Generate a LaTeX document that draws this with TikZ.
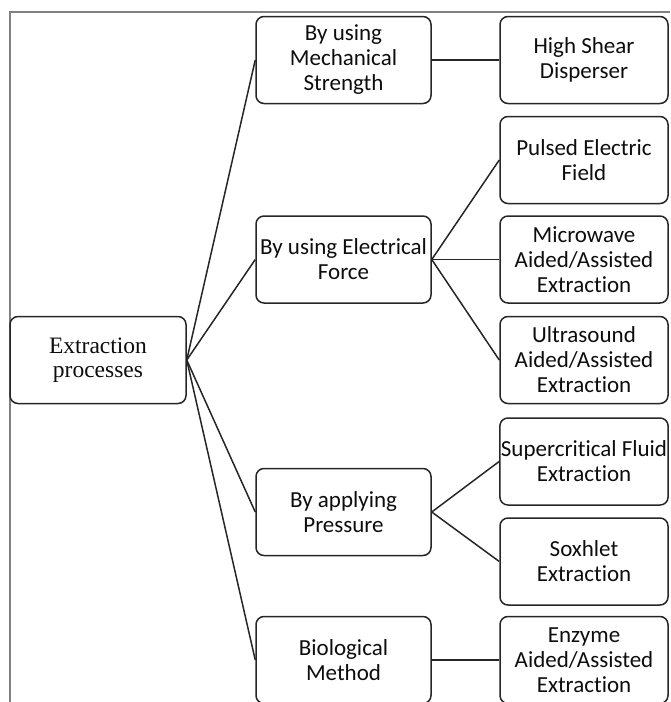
\documentclass[tikz,border=0pt]{standalone}
\usepackage{fontspec}
\setmainfont[Ligatures=NoCommon]{Carlito}
\newfontfamily\rootfont{Liberation Serif}
\begin{document}
\begin{tikzpicture}[x=1pt,y=-1pt,line width=1.5pt,draw=black!85]
	\def \colroot{98}
	\def \colmid{343.5}
	\def \colleaf{584}
	\tikzstyle{box}=[draw,rounded corners=8pt,align=center,inner sep=1pt,minimum height=87pt,text=black!95,font=\fontsize{23}{25}\selectfont]
	\tikzstyle{r-box}=[box,minimum width=176pt,font=\rootfont\fontsize{23.5}{24.5}\selectfont]
	\tikzstyle{m-box}=[box,minimum width=175pt]
	\tikzstyle{l-box}=[box,minimum width=168pt]
	\tikzstyle{frame}=[draw=black!50,line width=2pt]
	\useasboundingbox (0,0) rectangle (670,702);
	% frame
	\draw[frame] (9.5,702) -- (9.5,11.5) -- (670,11.5);

	% root
	\node[r-box] 	(ext)	at (\colroot,360)	{Extraction\\processes};

	% methods
	\node[m-box] 	(mech)	at (\colmid,60)		{By using\\Mechanical\\Strength};
	\node[m-box] 	(elec)	at (\colmid,259.5)	{By using Electrical\\Force};
	\node[m-box] 	(pres)	at (\colmid,512)	{By applying\\Pressure};
	\node[m-box] 	(bio)	at (\colmid,660)	{Biological\\Method};

	% techniques
	\node[l-box] 	(shear)	at (\colleaf,60)	{High Shear\\Disperser};
	\node[l-box] 	(pef)	at (\colleaf,160)	{Pulsed Electric\\Field};
	\node[l-box] 	(mae)	at (\colleaf,259.5)	{Microwave\\Aided/Assisted\\Extraction};
	\node[l-box] 	(uae)	at (\colleaf,360)	{Ultrasound\\Aided/Assisted\\Extraction};
	\node[l-box] 	(sfe)	at (\colleaf,461.5)	{Supercritical Fluid\\Extraction};
	\node[l-box] 	(sox)	at (\colleaf,561.5)	{Soxhlet\\Extraction};
	\node[l-box] 	(eae)	at (\colleaf,660)	{Enzyme\\Aided/Assisted\\Extraction};

	\path
		(ext.east)	edge	node	{}	(mech.west)
		(ext.east)	edge	node	{}	(elec.west)
		(ext.east)	edge	node	{}	(pres.west)
		(ext.east)	edge	node	{}	(bio.west)
		%
		(mech.east)	edge	node	{}	(shear.west)
		(elec.east)	edge	node	{}	(pef.west)
		(elec.east)	edge	node	{}	(mae.west)
		(elec.east)	edge	node	{}	(uae.west)
		(pres.east)	edge	node	{}	(sfe.west)
		(pres.east)	edge	node	{}	(sox.west)
		(bio.east)	edge	node	{}	(eae.west);
\end{tikzpicture}
\end{document}
